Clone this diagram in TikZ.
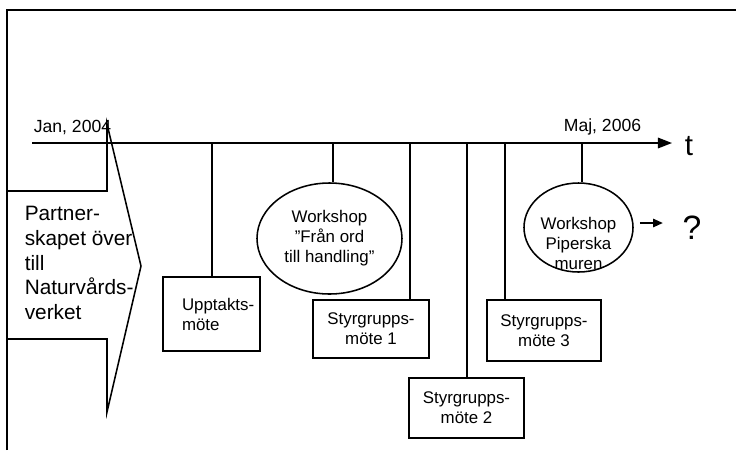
\documentclass[tikz,border=0pt]{standalone}
\usepackage{fontspec}
\setmainfont{Liberation Sans}
\usetikzlibrary{arrows.meta,shapes.geometric}

\newcommand{\pxl}{0.025cm}
\newcommand{\smalltxt}{\fontsize{12}{14.2}\selectfont}
\newcommand{\bigtxt}{\fontsize{14.8}{17.7}\selectfont}

\begin{document}
\begin{tikzpicture}[x=0.025cm,y=-0.025cm,line width=1.1pt,
    label/.style={inner sep=0pt,font=\smalltxt,align=center},
    meeting/.style={draw,inner sep=0pt,font=\smalltxt,align=center},
    workshop/.style={draw,ellipse,inner sep=0pt,font=\smalltxt,align=center}]
  \useasboundingbox (0,0) rectangle (736,450);
  % Frame
  \draw (7,450) -- (7,10) -- (736,10);
  % Block arrow
  \draw (7,191) -- (107,191) -- (107,124) -- (141,266) -- (107,412) -- (107,339) -- (7,339);
  \node[inner sep=0pt,anchor=west,align=left,font=\bigtxt] (partner) at (24,263)
    {Partner-\\skapet över\\till\\Naturvårds-\\verket};
  % Time axis
  \coordinate (t0) at (32,143);
  \coordinate (t1) at (672,143);
  \draw[-{Triangle[length=10pt,width=7.5pt]}] (t0) -- (t1);
  \node[inner sep=0pt,font=\fontsize{21}{25}\selectfont] (t) at (689,146) {t};
  \node[label,font=\fontsize{12.5}{15}\selectfont] (jan) at (72.5,127) {Jan, 2004};
  \node[label,font=\fontsize{12.5}{15}\selectfont] (maj) at (602.5,127) {Maj, 2006};
  % Events
  \node[meeting,minimum width=97*\pxl,minimum height=74*\pxl,
    text width=59*\pxl,align=left] (upp) at (211.5,314) {\mbox{Upptakts-}\\möte};
  \node[workshop,minimum width=145*\pxl,minimum height=111*\pxl] (ws1) at (329.5,238.5)
    {Workshop\\\symbol{34}Från ord\\till handling\symbol{34}};
  \node[meeting,minimum width=116*\pxl,minimum height=58*\pxl] (styr1) at (371,329)
    {Styrgrupps-\\möte 1};
  \node[meeting,minimum width=115*\pxl,minimum height=60*\pxl] (styr2) at (466.5,408)
    {Styrgrupps-\\möte 2};
  \node[meeting,minimum width=114*\pxl,minimum height=61*\pxl] (styr3) at (544,330.5)
    {Styrgrupps-\\möte 3};
  \node[workshop,minimum width=109*\pxl,minimum height=89*\pxl] (ws2) at (578.5,227.5) {};
  \node[label] (ws2txt) at (578.5,243) {Workshop\\Piperska\\muren};
  % Lines down from the axis
  \foreach \n/\x in {upp/212,ws1/333,styr1/410,styr2/467,styr3/505,ws2/582}
    \draw (\x,143) -- (\x,143 |- \n.north);
  % Outlook
  \node[inner sep=0pt,font=\fontsize{24}{28}\selectfont] (q) at (692,227.5) {?};
  \coordinate (qa) at ([shift={(6,-4.5)}]ws2.east);
  \draw[-{Triangle[length=7pt,width=6pt]},shorten >=13.5pt] (qa) -- (qa -| q.west);
\end{tikzpicture}
\end{document}
